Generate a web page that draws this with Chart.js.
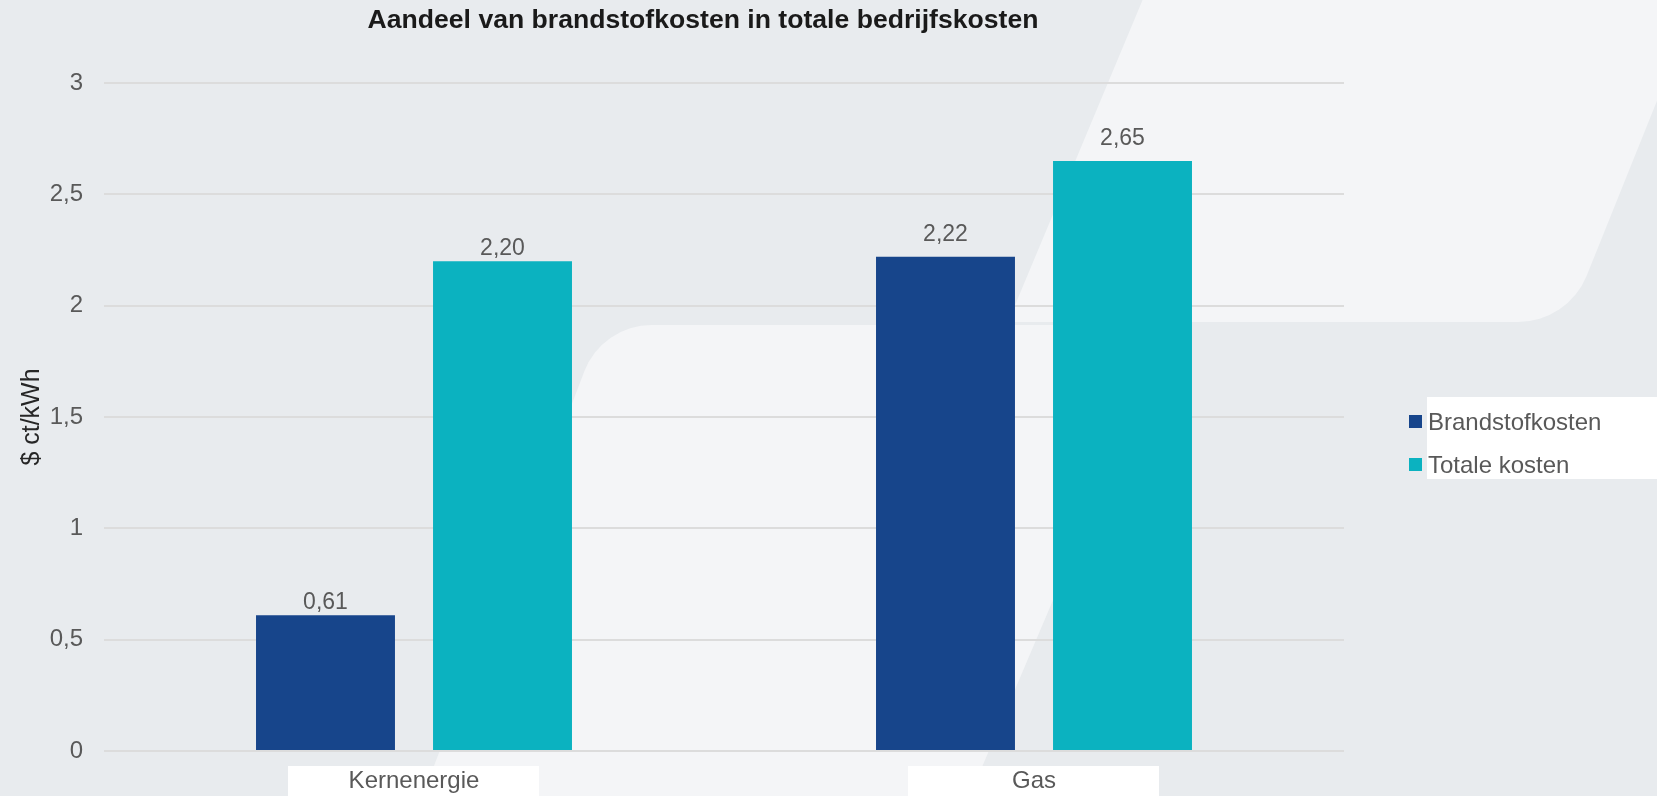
<!DOCTYPE html>
<html>
<head>
<meta charset="utf-8">
<script src="https://cdn.jsdelivr.net/npm/chart.js@4"></script>
<style>
html,body{margin:0;padding:0;width:1657px;height:796px;overflow:hidden;background:#e8ebee;font-family:"Liberation Sans",Arial,sans-serif;}
#wrap{position:relative;width:1657px;height:796px;}
#c{position:absolute;left:0;top:0;}
#title{position:absolute;left:0;top:6px;width:1406px;text-align:center;font-weight:bold;font-size:26.6px;line-height:26px;color:#1a1a1a;white-space:nowrap;}
#lgbox{position:absolute;left:1427px;top:397px;width:230px;height:82px;background:#ffffff;}
.mk{position:absolute;left:1409px;width:13px;height:13px;}
.lt{position:absolute;left:1428px;font-size:24px;line-height:24px;color:#595959;white-space:nowrap;}
</style>
</head>
<body>
<div id="wrap">
<canvas id="c" width="1657" height="796"></canvas>
<div id="title">Aandeel van brandstofkosten in totale bedrijfskosten</div>
<div id="lgbox"></div>
<div class="mk" style="top:415px;background:#17458b"></div>
<div class="lt" style="top:410px">Brandstofkosten</div>
<div class="mk" style="top:458px;background:#0bb2c0"></div>
<div class="lt" style="top:453px">Totale kosten</div>
</div>
<script>
const categories = ['Kernenergie', 'Gas'];
const brandstofkosten = [0.61, 2.22];
const totaleKosten = [2.20, 2.65];
const seriesNames = ['Brandstofkosten', 'Totale kosten'];
const yAxisTitle = '$ ct/kWh';
const yMin = 0, yMax = 3, yStep = 0.5;

const fmt = v => String(v).replace('.', ',');
const fmt2 = v => v.toFixed(2).replace('.', ',');

function roundedPoly(ctx, pts) {
  const n = pts.length;
  ctx.beginPath();
  const last = pts[n - 1], first = pts[0];
  ctx.moveTo((last[0] + first[0]) / 2, (last[1] + first[1]) / 2);
  for (let i = 0; i < n; i++) {
    const p = pts[i], q = pts[(i + 1) % n];
    if (p[2] > 0) ctx.arcTo(p[0], p[1], q[0], q[1], p[2]);
    else ctx.lineTo(p[0], p[1]);
  }
  ctx.closePath();
  ctx.fill();
}

const bgPlugin = {
  id: 'bg',
  beforeDraw(chart) {
    const ctx = chart.ctx;
    ctx.save();
    ctx.fillStyle = '#e8ebee';
    ctx.fillRect(0, 0, chart.width, chart.height);
    ctx.fillStyle = '#f4f5f7';
    roundedPoly(ctx, [[1143, -1, 0], [1698, -1, 0], [1568, 322, 74], [1008, 322, 0]]);
    roundedPoly(ctx, [[602, 325, 72], [1170, 325, 40], [968, 800, 0], [421, 800, 0]]);
    const xs = chart.scales.x;
    ctx.fillStyle = '#ffffff';
    for (let i = 0; i < categories.length; i++) {
      const px = xs.getPixelForTick(i);
      ctx.fillRect(Math.round(px - 126), 766, 251, 31);
    }
    ctx.restore();
  }
};

const labelPlugin = {
  id: 'vlabels',
  afterDatasetsDraw(chart) {
    const ctx = chart.ctx;
    ctx.save();
    ctx.font = '23px "Liberation Sans", Arial, sans-serif';
    ctx.fillStyle = '#595959';
    ctx.textAlign = 'center';
    ctx.textBaseline = 'alphabetic';
    chart.data.datasets.forEach((ds, di) => {
      const meta = chart.getDatasetMeta(di);
      meta.data.forEach((bar, i) => {
        const gap = i === 0 ? 6 : 16;
        ctx.fillText(fmt2(ds.data[i]), bar.x, bar.y - gap);
      });
    });
    ctx.restore();
  }
};

new Chart(document.getElementById('c'), {
  type: 'bar',
  data: {
    labels: categories,
    datasets: [
      { label: seriesNames[0], data: brandstofkosten, backgroundColor: '#17458b' },
      { label: seriesNames[1], data: totaleKosten, backgroundColor: '#0bb2c0' }
    ]
  },
  options: {
    responsive: false,
    animation: false,
    devicePixelRatio: 1,
    categoryPercentage: 0.571,
    barPercentage: 0.785,
    layout: { padding: { top: 83, right: 313, bottom: 0, left: 0 } },
    plugins: {
      legend: { display: false },
      title: { display: false },
      tooltip: { enabled: false }
    },
    scales: {
      x: {
        afterFit(s) { s.height = 45; },
        grid: { display: false, drawTicks: false },
        border: { display: false },
        ticks: {
          color: '#595959',
          padding: 16,
          font: { family: '"Liberation Sans", Arial, sans-serif', size: 24 }
        }
      },
      y: {
        min: yMin,
        max: yMax,
        afterFit(s) { s.width = 104; },
        border: { display: false },
        grid: { color: '#dcdcdc', lineWidth: 2, drawTicks: false },
        ticks: {
          stepSize: yStep,
          padding: 21,
          color: '#595959',
          font: { family: '"Liberation Sans", Arial, sans-serif', size: 24 },
          callback: v => fmt(v)
        },
        title: {
          display: true,
          text: yAxisTitle,
          color: '#262626',
          padding: { top: 17, bottom: 0 },
          font: { family: '"Liberation Sans", Arial, sans-serif', size: 25 }
        }
      }
    }
  },
  plugins: [bgPlugin, labelPlugin]
});
</script>
</body>
</html>
